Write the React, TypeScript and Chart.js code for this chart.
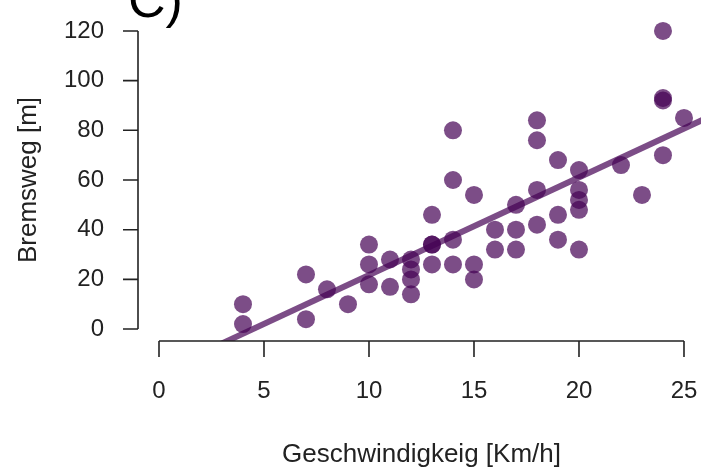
import { useEffect, useRef } from "react";
import { Chart, registerables } from "chart.js";
Chart.register(...registerables);

const speed = [4, 4, 7, 7, 8, 9, 10, 10, 10, 11, 11, 12, 12, 12, 12, 13, 13, 13, 13, 14, 14, 14, 14, 15, 15, 15, 16, 16, 17, 17, 17, 18, 18, 18, 18, 19, 19, 19, 20, 20, 20, 20, 20, 22, 23, 24, 24, 24, 24, 25];
const dist = [2, 10, 4, 22, 16, 10, 18, 26, 34, 17, 28, 14, 20, 24, 28, 26, 34, 34, 46, 26, 36, 60, 80, 20, 26, 54, 32, 40, 32, 40, 50, 42, 56, 76, 84, 36, 46, 68, 32, 48, 52, 56, 64, 66, 54, 70, 92, 93, 120, 85];
const xTicks = [0, 5, 10, 15, 20, 25];
const yTicks = [0, 20, 40, 60, 80, 100, 120];
const xTitle = "Geschwindigkeig [Km/h]";
const yTitle = "Bremsweg [m]";
const panelLabel = "C)";

const FONT = "'Liberation Sans', Arial, sans-serif";
const PURPLE = "rgba(68,1,84,0.7)";

function fit(xs: number[], ys: number[]) {
  const n = xs.length;
  const mx = xs.reduce((a, b) => a + b, 0) / n;
  const my = ys.reduce((a, b) => a + b, 0) / n;
  let sxy = 0, sxx = 0;
  for (let i = 0; i < n; i++) {
    sxy += (xs[i] - mx) * (ys[i] - my);
    sxx += (xs[i] - mx) * (xs[i] - mx);
  }
  const b = sxy / sxx;
  return { a: my - b * mx, b };
}

const axesPlugin = {
  id: "rAxes",
  afterDraw(chart: any) {
    const ctx = chart.ctx;
    const xs = chart.scales.x;
    const ys = chart.scales.y;
    const area = chart.chartArea;
    ctx.save();
    ctx.strokeStyle = "#222";
    ctx.fillStyle = "#222";
    ctx.lineWidth = 1.6;
    // x axis
    const yb = area.bottom;
    ctx.beginPath();
    ctx.moveTo(xs.getPixelForValue(xTicks[0]), yb);
    ctx.lineTo(xs.getPixelForValue(xTicks[xTicks.length - 1]), yb);
    for (const t of xTicks) {
      const p = xs.getPixelForValue(t);
      ctx.moveTo(p, yb);
      ctx.lineTo(p, yb + 16);
    }
    ctx.stroke();
    ctx.font = `24px ${FONT}`;
    ctx.textAlign = "center";
    ctx.textBaseline = "middle";
    for (const t of xTicks) {
      ctx.fillText(String(t), xs.getPixelForValue(t), yb + 50);
    }
    // y axis
    const xl = area.left;
    ctx.beginPath();
    ctx.moveTo(xl, ys.getPixelForValue(yTicks[0]));
    ctx.lineTo(xl, ys.getPixelForValue(yTicks[yTicks.length - 1]));
    for (const t of yTicks) {
      const p = ys.getPixelForValue(t);
      ctx.moveTo(xl, p);
      ctx.lineTo(xl - 15, p);
    }
    ctx.stroke();
    ctx.textAlign = "right";
    for (const t of yTicks) {
      ctx.fillText(String(t), xl - 34, ys.getPixelForValue(t));
    }
    // titles
    ctx.font = `26px ${FONT}`;
    ctx.textAlign = "center";
    ctx.textBaseline = "middle";
    ctx.fillText(xTitle, (area.left + xs.getPixelForValue(26)) / 2, 455);
    ctx.save();
    ctx.translate(29, (area.top + area.bottom) / 2);
    ctx.rotate(-Math.PI / 2);
    ctx.fillText(yTitle, 0, 0);
    ctx.restore();
    // panel label
    ctx.font = `52px ${FONT}`;
    ctx.textAlign = "left";
    ctx.textBaseline = "alphabetic";
    ctx.fillStyle = "#000";
    ctx.fillText(panelLabel, 128, 17);
    ctx.restore();
  },
};

export default function App() {
  const ref = useRef<HTMLCanvasElement>(null);
  useEffect(() => {
    if (!ref.current) return;
    const { a, b } = fit(speed, dist);
    const lineX = [-1, 27];
    const chart = new Chart(ref.current, {
      type: "scatter",
      data: {
        datasets: [
          {
            type: "line",
            data: lineX.map((x) => ({ x, y: a + b * x })),
            borderColor: PURPLE,
            borderWidth: 6,
            pointRadius: 0,
            fill: false,
            order: 0,
            clip: 0,
          } as any,
          {
            data: speed.map((s, i) => ({ x: s, y: dist[i] })),
            backgroundColor: PURPLE,
            borderWidth: 0,
            pointRadius: 9,
            order: 1,
            clip: 0,
          } as any,
        ],
      },
      options: {
        animation: false,
        responsive: false,
        devicePixelRatio: 1,
        layout: { autoPadding: false, padding: { left: 138, right: 0, top: 19, bottom: 131 } },
        plugins: { legend: { display: false }, tooltip: { enabled: false } },
        scales: {
          x: { type: "linear", min: -1, max: 25.81, display: false },
          y: { type: "linear", min: -4.8, max: 124.8, display: false },
        },
      },
      plugins: [axesPlugin],
    });
    return () => chart.destroy();
  }, []);
  return (
    <div style={{ position: "fixed", left: 0, top: 0, width: 701, height: 472, background: "#fff" }}>
      <canvas ref={ref} width={701} height={472} style={{ display: "block" }} />
    </div>
  );
}
